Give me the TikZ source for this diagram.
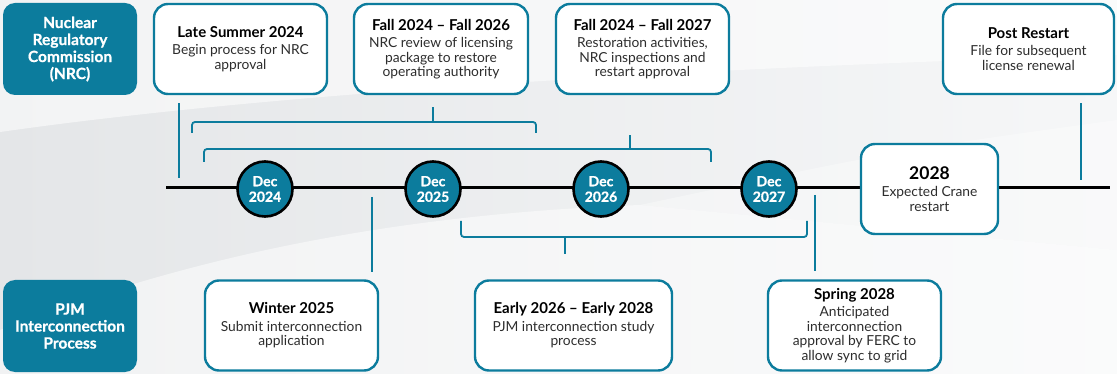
\documentclass[tikz,border=0pt]{standalone}
\usepackage{fontspec}
\setmainfont{Lato}
\newfontfamily\headfont[FakeBold=0.6]{Lato Bold}
\usepackage{tikz}

\definecolor{pjmteal}{RGB}{12,124,157}
\definecolor{bodygray}{RGB}{45,45,45}

\newcommand{\evtitle}[1]{{\fontsize{15}{17}\selectfont\bfseries\color{black}#1}\\[3pt]}

\tikzset{
  head/.style={fill=pjmteal, rounded corners=12pt, minimum width=134pt,
    minimum height=92pt, inner sep=0pt, text=white, align=center,
    font=\fontsize{15.5}{17}\selectfont\headfont},
  event/.style={draw=pjmteal, line width=2.4pt, fill=white, rounded corners=14pt,
    minimum height=90pt, inner sep=0pt, align=center, text=bodygray,
    font=\fontsize{13.8}{14.5}\selectfont},
  datecirc/.style={circle, fill=pjmteal, draw=black, line width=2.6pt,
    minimum size=55pt, inner sep=0pt, text=white, align=center,
    font=\fontsize{14}{15.5}\selectfont\headfont},
  tick/.style={draw=pjmteal, line width=1.8pt},
  brace/.style={draw=pjmteal, line width=1.8pt, rounded corners=3pt},
}

\begin{document}
\begin{tikzpicture}[x=1pt,y=-1pt]
\useasboundingbox (0,0) rectangle (1117,374);
\shade[left color={rgb,255:red,228;green,230;blue,232},
       right color={rgb,255:red,246;green,247;blue,248}] (0,0) rectangle (1117,374);
\fill[white,opacity=0.55] (0,0) -- (0,132) .. controls (260,95) and (640,70) .. (1117,55)
  -- (1117,0) -- cycle;
\fill[white,opacity=0.5] (0,374) -- (0,330) .. controls (180,260) and (380,215) .. (640,205)
  -- (1117,250) -- (1117,374) -- cycle;
\fill[white,opacity=0.35] (640,205) -- (1117,250) -- (1117,120) .. controls (900,150) .. (640,205);

% timeline
\coordinate (tlstart) at (166,188);
\coordinate (tlend) at (1110,188);
\draw[line width=3pt] (tlstart) -- (tlend);

\node[head] (nrc) at (70,49) {Nuclear\\Regulatory\\Commission\\(NRC)};
\node[head] (pjm) at (70,326) {PJM\\Interconnection\\Process};

\node[event, minimum width=173pt] (late) at (240.5,49)
  {\evtitle{Late Summer 2024}Begin process for NRC\\approval};
\node[event, minimum width=174pt] (review) at (441,49)
  {\evtitle{Fall 2024 -- Fall 2026}NRC review of licensing\\package to restore\\operating authority};
\node[event, minimum width=173pt] (restore) at (642.5,49)
  {\evtitle{Fall 2024 -- Fall 2027}Restoration activities,\\NRC inspections and\\restart approval};
\node[event, minimum width=171pt] (post) at (1028.5,49)
  {\evtitle{Post Restart}File for subsequent\\license renewal};

\node[event, minimum width=173pt] (winter) at (291.5,325.5)
  {\evtitle{Winter 2025}Submit interconnection\\application};
\node[event, minimum width=197pt] (study) at (573.5,325.5)
  {\evtitle{Early 2026 -- Early 2028}PJM interconnection study\\process};
\node[event, minimum width=173pt] (spring) at (854.5,325.5)
  {\evtitle{Spring 2028}Anticipated\\interconnection\\approval by FERC to\\allow sync to grid};

\node[event, minimum width=137pt] (crane) at (929.5,189)
  {{\fontsize{17.5}{19}\selectfont\bfseries\color{black}2028}\\[3pt]Expected Crane\\restart};

\foreach \x/\yr in {265/2024,433/2025,601/2026,769/2027}
  \node[datecirc] (d\yr) at (\x,189) {Dec\\\yr};

% milestones to the line
\coordinate (mlate) at (179,188);
\coordinate (mwinter) at (372,188);
\coordinate (mspring) at (815,188);
\coordinate (mpost) at (1081,188);
\draw[tick, shorten <=8pt, shorten >=10pt] (late.south -| mlate) -- (mlate);
\draw[tick, shorten <=8pt, shorten >=8pt] (post.south -| mpost) -- (mpost);
\draw[tick, shorten <=9pt, shorten >=7pt] (mwinter) -- (winter.north -| mwinter);
\draw[tick, shorten <=7pt, shorten >=8pt] (mspring) -- (spring.north -| mspring);

% spans
\draw[brace] (192,133) -- (192,122) -- (536,122) -- (536,133);
\draw[brace] (433,122) -- (433,107);
\draw[brace] (204,162) -- (204,149) -- (711,149) -- (711,162);
\draw[brace] (630,149) -- (630,135);
\draw[brace] (461,221) -- (461,237) -- (807,237) -- (807,221);
\draw[brace] (565,237) -- (565,254);
\end{tikzpicture}
\end{document}
